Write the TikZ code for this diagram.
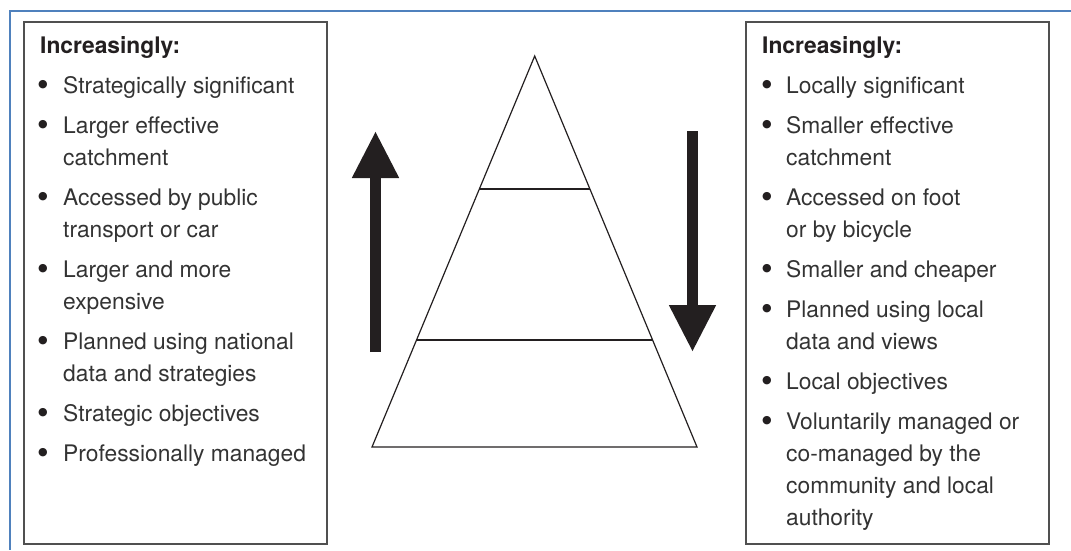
\documentclass[tikz,border=0pt]{standalone}
\usepackage{fontspec}
\setmainfont{TeX Gyre Heros}
\newfontfamily\symfont{DejaVu Sans}
\usetikzlibrary{arrows.meta,calc}
\definecolor{ink}{HTML}{231F20}
\definecolor{txtgray}{HTML}{333333}
\definecolor{frameblue}{HTML}{4F81BD}
\definecolor{boxgray}{HTML}{505050}
\begin{document}
\begin{tikzpicture}[x=1pt,y=-1pt,
  txt/.style={anchor=base west, inner sep=0, font=\fontsize{22.8}{32}\selectfont, text=txtgray},
  hd/.style={anchor=base west, inner sep=0, font=\fontsize{22.8}{32}\selectfont\bfseries, text=ink},
  bul/.style={anchor=center, inner sep=0, font=\symfont\fontsize{11}{12}\selectfont, text=ink},
  panel/.style={draw=boxgray, line width=1.5pt, rectangle, inner sep=0, anchor=north west, minimum width=303pt, minimum height=522pt},
  pyr/.style={draw=ink, line width=1.2pt},
  blockarrow/.style={draw=ink, line width=11pt, -{Triangle[length=47pt,width=44pt]}},
  frame/.style={draw=frameblue, line width=2pt}
]
\useasboundingbox (0,0) rectangle (1071,550);
% outer frame
\coordinate (fTR) at (1071,11);
\coordinate (fTL) at (9.5,11);
\coordinate (fBL) at (9.5,550);
\draw[frame] (fTR) -- (fTL) -- (fBL);

% panels
\node[panel] (leftbox) at (23,21) {};
\node[panel] (rightbox) at (745,21) {};

% left text
\node[hd] (lh) at (40,53) {Increasingly:};
\node[bul] (lb1) at (43,85) {●};
\node[txt] (l1) at (63,93) {Strategically significant};
\node[bul] (lb2) at (43,125) {●};
\node[txt] (l2a) at (63,133) {Larger effective};
\node[txt] (l2b) at (63,165) {catchment};
\node[bul] (lb3) at (43,197) {●};
\node[txt] (l3a) at (63,205) {Accessed by public};
\node[txt] (l3b) at (63,237) {transport or car};
\node[bul] (lb4) at (43,269) {●};
\node[txt] (l4a) at (63,277) {Larger and more};
\node[txt] (l4b) at (63,309) {expensive};
\node[bul] (lb5) at (43,341) {●};
\node[txt] (l5a) at (63,349) {Planned using national};
\node[txt] (l5b) at (63,381) {data and strategies};
\node[bul] (lb6) at (43,413) {●};
\node[txt] (l6) at (63,421) {Strategic objectives};
\node[bul] (lb7) at (43,453) {●};
\node[txt] (l7) at (63,461) {Professionally managed};

% right text
\node[hd] (rh) at (762,53) {Increasingly:};
\node[bul] (rb1) at (767,85) {●};
\node[txt] (r1) at (786,93) {Locally significant};
\node[bul] (rb2) at (767,125) {●};
\node[txt] (r2a) at (786,133) {Smaller effective};
\node[txt] (r2b) at (786,165) {catchment};
\node[bul] (rb3) at (767,197) {●};
\node[txt] (r3a) at (786,205) {Accessed on foot};
\node[txt] (r3b) at (786,237) {or by bicycle};
\node[bul] (rb4) at (767,269) {●};
\node[txt] (r4) at (786,277) {Smaller and cheaper};
\node[bul] (rb5) at (767,309) {●};
\node[txt] (r5a) at (786,317) {Planned using local};
\node[txt] (r5b) at (786,349) {data and views};
\node[bul] (rb6) at (767,381) {●};
\node[txt] (r6) at (786,389) {Local objectives};
\node[bul] (rb7) at (767,421) {●};
\node[txt] (r7a) at (786,429) {Voluntarily managed or};
\node[txt] (r7b) at (786,461) {co-managed by the};
\node[txt] (r7c) at (786,493) {community and local};
\node[txt] (r7d) at (786,525) {authority};

% pyramid
\coordinate (apex) at (534.7,56);
\coordinate (bl) at (372,447);
\coordinate (br) at (697,447);
\draw[pyr, line join=miter] (apex) -- (bl) -- (br) -- cycle;
\coordinate (t1l) at ($(apex)!0.3402!(bl)$);
\coordinate (t1r) at ($(apex)!0.3402!(br)$);
\coordinate (t2l) at ($(apex)!0.7263!(bl)$);
\coordinate (t2r) at ($(apex)!0.7263!(br)$);
\draw[pyr] (t1l) -- (t1r);
\draw[pyr] (t2l) -- (t2r);

% arrows
\coordinate (upS) at (375.5,352);
\coordinate (upE) at (375.5,131);
\coordinate (dnS) at (692.5,131);
\coordinate (dnE) at (692.5,352);
\draw[blockarrow] (upS) -- (upE);
\draw[blockarrow] (dnS) -- (dnE);
\end{tikzpicture}
\end{document}
